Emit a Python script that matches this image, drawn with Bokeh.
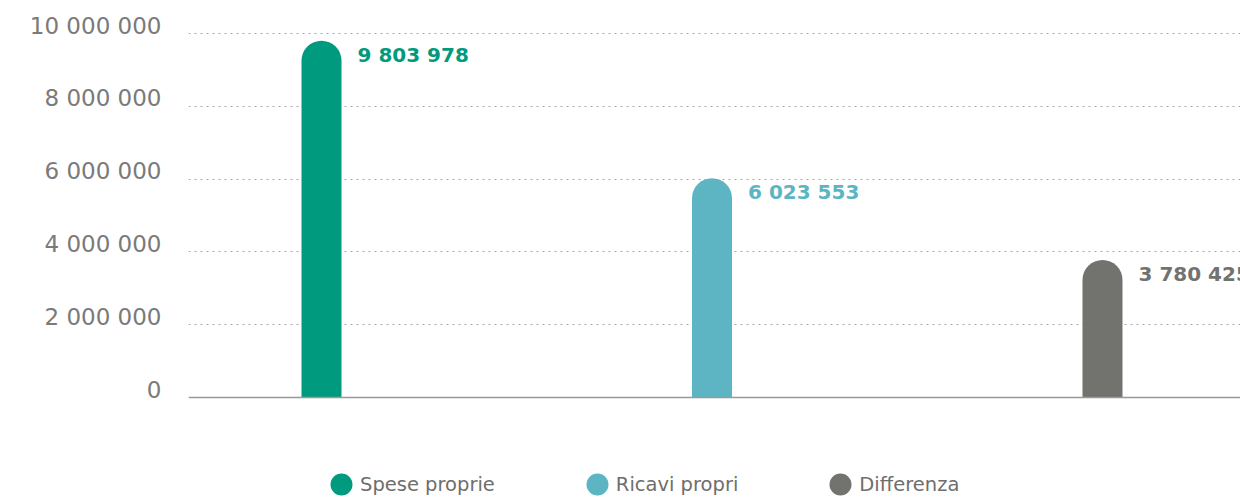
from bokeh.plotting import figure
from bokeh.models import ColumnDataSource, FixedTicker, Range1d, LinearAxis, Grid, Span
from bokeh.core.properties import value
from bokeh.embed import file_html
from bokeh.resources import INLINE

categories = ["Spese proprie", "Ricavi propri", "Differenza"]
values = [9803978, 6023553, 3780425]
colors = ["#009B7E", "#5DB5C3", "#72736F"]
y_ticks = [0, 2000000, 4000000, 6000000, 8000000, 10000000]
y_tick_labels = ["0", "2 000 000", "4 000 000", "6 000 000", "8 000 000", "10 000 000"]

PX_PER_UNIT = 36.4 / 1e6
Y_MIN = -107 / PX_PER_UNIT
Y_MAX = 1e7 + 11 / PX_PER_UNIT
source = ColumnDataSource(dict(
    x=list(range(len(categories))),
    y=values,
    category=categories,
    color=colors,
    label=[f"{v:,}".replace(",", " ") for v in values],
))

X0, X1 = -0.3406, 2.3534
p = figure(width=1240, height=504, output_backend="svg", toolbar_location=None,
           x_range=Range1d(X0, X1), y_range=Range1d(Y_MIN, Y_MAX),
           x_axis_location=None, y_axis_location=None,
           min_border_left=188, min_border_right=0, min_border_top=22, min_border_bottom=0,
           outline_line_color=None, background_fill_color="white", border_fill_color="white")
p.xgrid.visible = False
p.ygrid.visible = False

shift = 8 / PX_PER_UNIT
p.extra_y_ranges = {"lbl": Range1d(Y_MIN - shift, Y_MAX - shift)}
yaxis = LinearAxis(y_range_name="lbl", ticker=FixedTicker(ticks=y_ticks),
                   major_label_overrides={t: l for t, l in zip(y_ticks, y_tick_labels)})
yaxis.axis_line_color = None
yaxis.major_tick_line_color = None
yaxis.minor_tick_line_color = None
yaxis.major_tick_out = 0
yaxis.major_tick_in = 0
yaxis.minor_tick_out = 0
yaxis.major_label_standoff = 27
yaxis.major_label_text_font = "DejaVu Sans"
yaxis.major_label_text_font_size = "23px"
yaxis.major_label_text_color = "#7a7a7a"
p.add_layout(yaxis, "left")

grid = Grid(dimension=1, ticker=FixedTicker(ticks=y_ticks[1:]), grid_line_color="#a8a8a8",
            grid_line_dash="2 4", grid_line_width=1)
p.add_layout(grid)
p.add_layout(Span(location=0, dimension="width", line_color="#999999", line_width=1.5))

bar_w = 40 / (1052 / (X1 - X0))
p.vbar(x="x", top="y", bottom=0, width=bar_w, source=source, fill_color="color",
       line_color=None, border_radius=(20, 20, 0, 0))

p.text(x="x", y="y", text="label", source=source, x_offset=36, y_offset=14,
       text_align="left", text_baseline="middle", text_font=value("DejaVu Sans"),
       text_font_style="bold", text_font_size="20px", text_color="color")

legend_r = p.scatter(x="x", y="y", size=0, source=source, fill_color="color",
                     line_color="color", line_width=7.6, legend_field="category")
legend_r.visible = False

lg = p.legend[0]
lg.location = (135, 2)
lg.orientation = "horizontal"
lg.glyph_width = 36
lg.glyph_height = 36
lg.label_standoff = 1
lg.spacing = 84
lg.padding = 0
lg.margin = 0
lg.border_line_color = None
lg.background_fill_alpha = 0
lg.inactive_fill_alpha = 0
lg.label_text_font = "DejaVu Sans"
lg.label_text_font_size = "19.5px"
lg.label_text_color = "#6e6e6e"

open("out.html", "w").write(file_html(p, INLINE))
